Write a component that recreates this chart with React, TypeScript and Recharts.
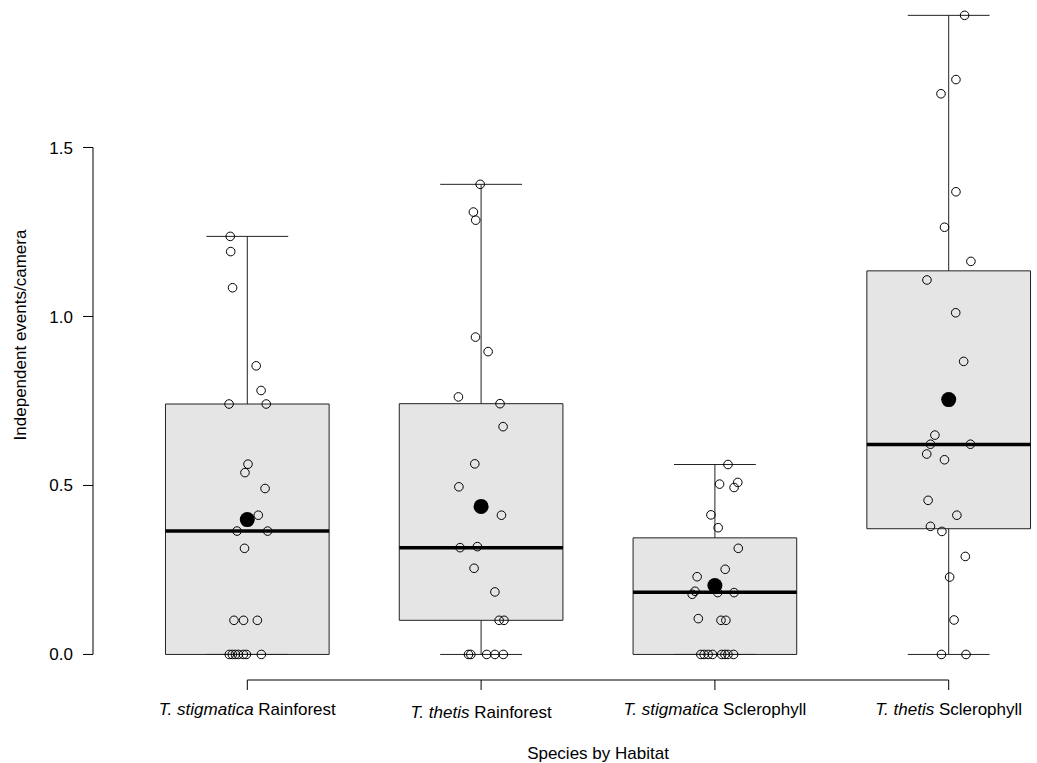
import React from "react";
import {
  ComposedChart,
  XAxis,
  YAxis,
  Scatter,
  ReferenceArea,
  ReferenceLine,
  Label,
} from "recharts";

// groups on the x axis
const groupPositions = [1, 2, 3, 4];
const speciesNames = ["T. stigmatica", "T. thetis", "T. stigmatica", "T. thetis"];
const habitatNames = ["Rainforest", "Rainforest", "Sclerophyll", "Sclerophyll"];
const yTicks = [0, 0.5, 1, 1.5];

// box statistics
const lowerWhisker = [0, 0, 0, 0];
const lowerQuartile = [0, 0.101, 0, 0.372];
const medians = [0.365, 0.316, 0.184, 0.621];
const upperQuartile = [0.741, 0.742, 0.345, 1.135];
const upperWhisker = [1.237, 1.391, 0.562, 1.891];
const means = [0.399, 0.438, 0.204, 0.754];

// raw camera values (events/camera) and their jitter in group units
const stigRainValues = [
  1.237, 1.192, 1.085, 0.854, 0.781, 0.741, 0.741, 0.563, 0.538, 0.491, 0.412,
  0.365, 0.365, 0.314, 0.101, 0.101, 0.101, 0, 0, 0, 0, 0, 0, 0,
];
const stigRainJitter = [
  -0.073, -0.071, -0.063, 0.038, 0.059, -0.078, 0.081, 0.003, -0.01, 0.076,
  0.047, -0.044, 0.087, -0.012, -0.057, -0.016, 0.043, -0.077, -0.064, -0.051,
  -0.038, -0.017, -0.004, 0.06,
];

const thetRainValues = [
  1.391, 1.309, 1.285, 0.939, 0.896, 0.762, 0.742, 0.674, 0.564, 0.496, 0.412,
  0.316, 0.319, 0.255, 0.185, 0.101, 0.101, 0, 0, 0, 0, 0,
];
const thetRainJitter = [
  -0.004, -0.033, -0.023, -0.024, 0.03, -0.097, 0.081, 0.094, -0.027, -0.095,
  0.087, -0.09, -0.016, -0.03, 0.059, 0.077, 0.098, -0.054, -0.044, 0.024,
  0.059, 0.095,
];

const stigScleValues = [
  0.562, 0.504, 0.509, 0.494, 0.413, 0.375, 0.314, 0.252, 0.23, 0.187, 0.178,
  0.183, 0.183, 0.106, 0.101, 0.101, 0, 0, 0, 0, 0, 0, 0, 0,
];
const stigScleJitter = [
  0.056, 0.02, 0.098, 0.082, -0.017, 0.014, 0.1, 0.044, -0.076, -0.085, -0.097,
  0.012, 0.082, -0.071, 0.026, 0.047, -0.06, -0.046, -0.029, -0.01, 0.029,
  0.043, 0.056, 0.08,
];

const thetScleValues = [
  1.891, 1.701, 1.659, 1.369, 1.264, 1.163, 1.108, 1.011, 0.867, 0.649, 0.622,
  0.622, 0.593, 0.576, 0.456, 0.412, 0.379, 0.364, 0.29, 0.229, 0.102, 0, 0,
];
const thetScleJitter = [
  0.068, 0.031, -0.033, 0.031, -0.018, 0.095, -0.093, 0.03, 0.064, -0.059,
  -0.078, 0.093, -0.094, -0.018, -0.088, 0.035, -0.078, -0.029, 0.071, 0.004,
  0.023, -0.031, 0.074,
];

const groupValues = [stigRainValues, thetRainValues, stigScleValues, thetScleValues];
const groupJitter = [stigRainJitter, thetRainJitter, stigScleJitter, thetScleJitter];

const FONT = '"Liberation Sans", Arial, Helvetica, sans-serif';
const BOX_HALF = 0.35;
const CAP_HALF = 0.175;
const X_DOMAIN: [number, number] = [0.34, 4.66];
const Y_DOMAIN: [number, number] = [-0.0756, 1.966];

const rawPoints = groupValues.flatMap((vals, gi) =>
  vals.map((v, i) => ({ x: groupPositions[gi] + groupJitter[gi][i], y: v }))
);
const meanPoints = means.map((m, gi) => ({ x: groupPositions[gi], y: m }));

const OpenCircle = (props: any) => {
  const { cx, cy } = props;
  return <circle cx={cx} cy={cy} r={4.3} fill="none" stroke="#000" strokeWidth={1} />;
};

const FilledCircle = (props: any) => {
  const { cx, cy } = props;
  return <circle cx={cx} cy={cy} r={7.5} fill="#000" stroke="none" />;
};

const GroupTick = (props: any) => {
  const { x, y, payload } = props;
  const idx = groupPositions.indexOf(payload.value);
  if (idx < 0) return null;
  // R drops the second label a little lower
  const drop = idx === 1 ? 3 : 0;
  return (
    <text
      x={x}
      y={y + drop}
      dy="0.71em"
      textAnchor="middle"
      fontFamily={FONT}
      fontSize={17}
      fill="#000"
    >
      <tspan fontStyle="italic">{speciesNames[idx]}</tspan>
      <tspan>{" " + habitatNames[idx]}</tspan>
    </text>
  );
};

const XTitle = (props: any) => {
  const vb = props.viewBox;
  return (
    <text
      x={vb.x + vb.width / 2}
      y={vb.y + 79}
      textAnchor="middle"
      fontFamily={FONT}
      fontSize={17}
      fill="#000"
    >
      Species by Habitat
    </text>
  );
};

const YTitle = (props: any) => {
  const vb = props.viewBox;
  const cx = 25.5;
  const cy = vb.y + vb.height / 2;
  return (
    <text
      x={cx}
      y={cy}
      transform={`rotate(-90 ${cx} ${cy})`}
      textAnchor="middle"
      fontFamily={FONT}
      fontSize={17}
      fill="#000"
    >
      Independent events/camera
    </text>
  );
};

export default function App() {
  return (
    <div
      style={{
        position: "absolute",
        left: 0,
        top: 0,
        width: 1037,
        height: 763,
        overflow: "hidden",
        background: "#fff",
      }}
    >
      <div style={{ position: "absolute", left: 0, top: -10 }}>
        <ComposedChart
          width={1110}
          height={774}
          margin={{ top: 0, right: 7, bottom: 0, left: 0 }}
        >
          <XAxis
            type="number"
            dataKey="x"
            domain={X_DOMAIN}
            allowDataOverflow
            ticks={groupPositions}
            interval={0}
            axisLine={false}
            tickLine={{ stroke: "#000", strokeWidth: 1 }}
            tickSize={10}
            tickMargin={13}
            tick={<GroupTick />}
            height={84}
          >
            <Label content={<XTitle />} />
          </XAxis>
          <YAxis
            type="number"
            dataKey="y"
            domain={Y_DOMAIN}
            allowDataOverflow
            ticks={yTicks}
            interval={0}
            axisLine={false}
            tickLine={{ stroke: "#000", strokeWidth: 1 }}
            tickSize={10}
            tickMargin={10}
            tickFormatter={(v: number) => v.toFixed(1)}
            tick={{ fill: "#000", fontFamily: FONT, fontSize: 17 }}
            width={93}
          >
            <Label content={<YTitle />} />
          </YAxis>

          {groupPositions.map((g, i) => (
            <ReferenceArea
              key={`box-${g}`}
              x1={g - BOX_HALF}
              x2={g + BOX_HALF}
              y1={lowerQuartile[i]}
              y2={upperQuartile[i]}
              fill="#e5e5e5"
              fillOpacity={1}
              stroke="#222"
              strokeWidth={1}
              ifOverflow="visible"
            />
          ))}

          {groupPositions.map((g, i) => (
            <ReferenceLine
              key={`wu-${g}`}
              segment={[
                { x: g, y: upperQuartile[i] },
                { x: g, y: upperWhisker[i] },
              ]}
              stroke="#222"
              strokeWidth={1}
              ifOverflow="visible"
            />
          ))}
          {groupPositions.map((g, i) => (
            <ReferenceLine
              key={`wl-${g}`}
              segment={[
                { x: g, y: lowerWhisker[i] },
                { x: g, y: lowerQuartile[i] },
              ]}
              stroke="#222"
              strokeWidth={1}
              ifOverflow="visible"
            />
          ))}
          {groupPositions.map((g, i) => (
            <ReferenceLine
              key={`cu-${g}`}
              segment={[
                { x: g - CAP_HALF, y: upperWhisker[i] },
                { x: g + CAP_HALF, y: upperWhisker[i] },
              ]}
              stroke="#222"
              strokeWidth={1}
              ifOverflow="visible"
            />
          ))}
          {groupPositions.map((g, i) => (
            <ReferenceLine
              key={`cl-${g}`}
              segment={[
                { x: g - CAP_HALF, y: lowerWhisker[i] },
                { x: g + CAP_HALF, y: lowerWhisker[i] },
              ]}
              stroke="#222"
              strokeWidth={1}
              ifOverflow="visible"
            />
          ))}
          {groupPositions.map((g, i) => (
            <ReferenceLine
              key={`med-${g}`}
              segment={[
                { x: g - BOX_HALF, y: medians[i] },
                { x: g + BOX_HALF, y: medians[i] },
              ]}
              stroke="#000"
              strokeWidth={3.5}
              ifOverflow="visible"
            />
          ))}

          {/* axis lines only span the tick range, like base R */}
          <ReferenceLine
            segment={[
              { x: X_DOMAIN[0], y: yTicks[0] },
              { x: X_DOMAIN[0], y: yTicks[yTicks.length - 1] },
            ]}
            stroke="#000"
            strokeWidth={1}
            ifOverflow="visible"
          />
          <ReferenceLine
            segment={[
              { x: groupPositions[0], y: Y_DOMAIN[0] },
              { x: groupPositions[groupPositions.length - 1], y: Y_DOMAIN[0] },
            ]}
            stroke="#000"
            strokeWidth={1}
            ifOverflow="visible"
          />

          <Scatter
            data={rawPoints}
            dataKey="y"
            shape={<OpenCircle />}
            isAnimationActive={false}
          />
          <Scatter
            data={meanPoints}
            dataKey="y"
            shape={<FilledCircle />}
            isAnimationActive={false}
          />
        </ComposedChart>
      </div>
    </div>
  );
}
